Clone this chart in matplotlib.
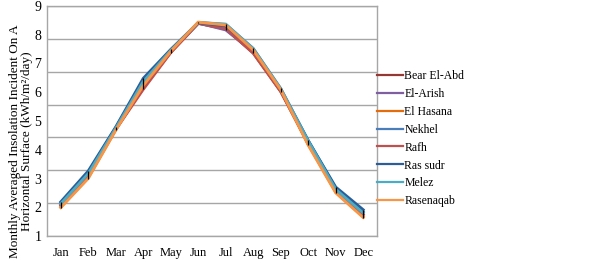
import matplotlib
matplotlib.use("Agg")
import matplotlib.pyplot as plt
import numpy as np

plt.rcParams["font.family"] = ["Liberation Serif", "DejaVu Serif"]

MONTHS = ["Jan", "Feb", "Mar", "Apr", "May", "Jun",
          "Jul", "Aug", "Sep", "Oct", "Nov", "Dec"]

# values in gridline units (grid drawn at 2..9)
bear_el_abd = [2.95, 3.85, 5.25, 6.50, 7.59, 8.47, 8.30, 7.57, 6.40, 4.83, 3.40, 2.66]
el_arish = [2.99, 3.92, 5.28, 6.66, 7.62, 8.48, 8.27, 7.60, 6.42, 4.86, 3.44, 2.72]
el_hasana = [2.88, 3.77, 5.23, 6.55, 7.60, 8.50, 8.40, 7.64, 6.43, 4.78, 3.33, 2.58]
nekhel = [3.01, 3.94, 5.30, 6.74, 7.66, 8.50, 8.44, 7.71, 6.49, 4.91, 3.45, 2.75]
rafh = [2.93, 3.83, 5.24, 6.46, 7.58, 8.47, 8.32, 7.56, 6.39, 4.80, 3.38, 2.64]
ras_sudr = [3.04, 3.98, 5.32, 6.80, 7.68, 8.49, 8.40, 7.68, 6.46, 4.90, 3.49, 2.80]
melez = [2.98, 3.90, 5.28, 6.70, 7.65, 8.50, 8.45, 7.70, 6.48, 4.89, 3.42, 2.70]
rasenaqab = [2.86, 3.75, 5.22, 6.58, 7.62, 8.51, 8.42, 7.66, 6.45, 4.76, 3.31, 2.56]

SERIES = [
    ("Bear El-Abd", bear_el_abd, "#953735"),
    ("El-Arish", el_arish, "#7f5fa0"),
    ("El Hasana", el_hasana, "#e46c0a"),
    ("Nekhel", nekhel, "#4a7ebb"),
    ("Rafh", rafh, "#c0504d"),
    ("Ras sudr", ras_sudr, "#2c5d98"),
    ("Melez", melez, "#4bacc6"),
    ("Rasenaqab", rasenaqab, "#f79646"),
]

Y_LABELS = [1, 2, 3, 4, 5, 6, 7, 8, 9]

fig = plt.figure(figsize=(6.02, 2.63), dpi=100)
ax = fig.add_axes([47 / 602, 27 / 263, 330 / 602, 230 / 263])

x = np.arange(len(MONTHS))
for name, vals, color in SERIES:
    ax.plot(x, vals, color=color, lw=2.0, label=name, solid_joinstyle="miter")

# high-low lines
allv = np.array([s[1] for s in SERIES])
ax.vlines(x, allv.min(axis=0), allv.max(axis=0), color="black", lw=0.9, zorder=5)

ax.set_xlim(-0.5, 11.5)
ax.set_ylim(2, 9)
ax.set_yticks(np.arange(2, 10))
ax.yaxis.grid(True, color="#a6a6a6", lw=1.0)
ax.set_axisbelow(True)
ax.tick_params(axis="y", left=False, labelleft=False)
ax.tick_params(axis="x", length=0, pad=8, labelsize=9)
ax.set_xticks(x)
ax.set_xticklabels(MONTHS)
for sp in ax.spines.values():
    sp.set_color("#a6a6a6")
    sp.set_linewidth(1.0)

sec = ax.secondary_yaxis(
    "left",
    functions=(lambda v: 1 + (v - 2) * 8 / 7, lambda u: 2 + (u - 1) * 7 / 8),
)
sec.set_yticks(Y_LABELS)
sec.tick_params(length=0, pad=4, labelsize=10)
sec.spines["left"].set_visible(False)

fig.text(21 / 602, 122 / 263,
         "Monthly Averaged Insolation Incident On A\nHorizontal Surface (kWh/m²/day)",
         rotation=90, ha="center", va="center", ma="center",
         fontsize=9.5, linespacing=0.9)

leg = ax.legend(loc="upper left", bbox_to_anchor=(377 / 602, 193 / 263),
                bbox_transform=fig.transFigure, frameon=False, fontsize=8.5,
                handlelength=2.2, handletextpad=0.1, labelspacing=0.5,
                borderaxespad=0, borderpad=0)
for h in leg.get_lines():
    h.set_linewidth(1.6)

fig.savefig("out.png", dpi=100)
